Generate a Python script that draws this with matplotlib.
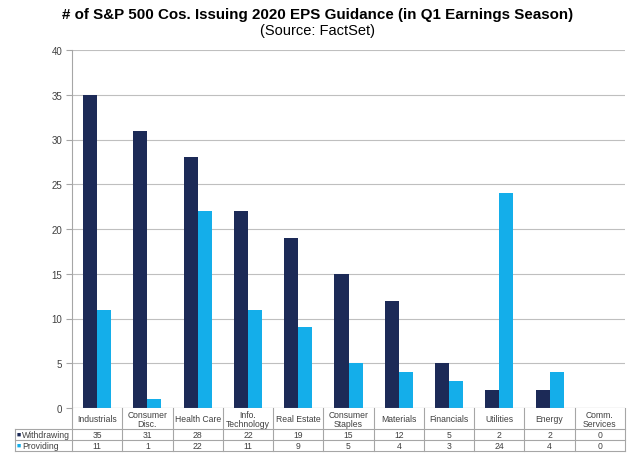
import matplotlib
matplotlib.use("Agg")
import matplotlib.pyplot as plt
import numpy as np
from matplotlib.transforms import blended_transform_factory

plt.rcParams['font.family'] = ['Liberation Sans', 'DejaVu Sans']

categories = ["Industrials", "Consumer\nDisc.", "Health Care", "Info.\nTechnology",
              "Real Estate", "Consumer\nStaples", "Materials", "Financials",
              "Utilities", "Energy", "Comm.\nServices"]
withdrawing = [35, 31, 28, 22, 19, 15, 12, 5, 2, 2, 0]
providing = [11, 1, 22, 11, 9, 5, 4, 3, 24, 4, 0]
series_names = ["Withdrawing", "Providing"]
colors = ["#1C2A57", "#14AEEA"]
yticks = [0, 5, 10, 15, 20, 25, 30, 35, 40]

W, H = 635, 460
fig = plt.figure(figsize=(W / 100, H / 100), dpi=100)
ax_l, ax_r, ax_t, ax_b = 72, 625, 51, 409
ax = fig.add_axes([ax_l / W, 1 - ax_b / H, (ax_r - ax_l) / W, (ax_b - ax_t) / H])

n = len(categories)
x = np.arange(n)
bw = 0.28
ax.bar(x - bw / 2, withdrawing, bw, color=colors[0], zorder=3)
ax.bar(x + bw / 2, providing, bw, color=colors[1], zorder=3)

ax.set_xlim(-0.5, n - 0.5)
ax.set_ylim(0, 40)
ax.set_yticks(yticks)
ax.yaxis.grid(True, color="#BFBFBF", linewidth=0.8, zorder=0)
ax.set_xticks([])
for s in ["top", "right", "bottom"]:
    ax.spines[s].set_visible(False)
ax.spines["left"].set_color("#A6A6A6")
ax.spines["left"].set_linewidth(0.8)
ax.tick_params(axis="y", direction="out", length=4, color="#A6A6A6",
               labelsize=7, labelcolor="#404040", pad=3)
ax.axhline(0, color="#A6A6A6", linewidth=0.8, zorder=4)

# data table below the axes
line_kw = dict(color="#A6A6A6", linewidth=0.8)
trans = blended_transform_factory(ax.transData, fig.transFigure)
def fy(py):
    return 1 - py / H

row_top, row_hdr, row_w, row_p = 409, 430, 441, 452
label_left = 15
for i in range(n + 1):
    xb = i - 0.5
    fig.add_artist(plt.Line2D([xb, xb], [fy(row_top), fy(row_p)], transform=trans, **line_kw))
for py in [row_hdr, row_w, row_p]:
    fig.add_artist(plt.Line2D([label_left / W, ax_r / W], [fy(py), fy(py)],
                              transform=fig.transFigure, **line_kw))
fig.add_artist(plt.Line2D([label_left / W, label_left / W], [fy(row_hdr), fy(row_p)],
                          transform=fig.transFigure, **line_kw))

fs = 6.2
for i, c in enumerate(categories):
    fig.text(i, fy((row_top + row_hdr) / 2 + 0.5), c, transform=trans, ha="center", va="center",
             fontsize=fs, color="#404040", linespacing=0.95)
    fig.text(i, fy((row_hdr + row_w) / 2), str(withdrawing[i]), transform=trans,
             ha="center", va="center", fontsize=fs, color="#404040")
    fig.text(i, fy((row_w + row_p) / 2), str(providing[i]), transform=trans,
             ha="center", va="center", fontsize=fs, color="#404040")

for k, (name, yy) in enumerate(zip(series_names, [(row_hdr + row_w) / 2, (row_w + row_p) / 2])):
    fig.text(17 / W, fy(yy), "■", color=colors[k], fontsize=5, ha="left", va="center")
    fig.text(22 / W, fy(yy), name, color="#404040", fontsize=fs, ha="left", va="center")

fig.text(0.5, fy(15), "# of S&P 500 Cos. Issuing 2020 EPS Guidance (in Q1 Earnings Season)",
         ha="center", va="center", fontsize=10.9, fontweight="bold", color="#000000")
fig.text(0.5, fy(31), "(Source: FactSet)", ha="center", va="center", fontsize=10.5, color="#000000")

fig.savefig("out.png", dpi=100, facecolor="white")
